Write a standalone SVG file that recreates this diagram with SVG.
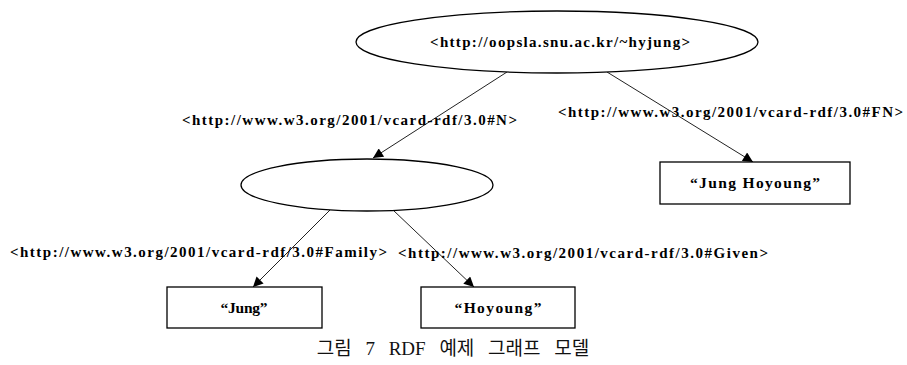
<svg xmlns="http://www.w3.org/2000/svg" width="907" height="365" viewBox="0 0 907 365">
<style>
.node{fill:#fff;stroke:#000;stroke-width:1.3}
.lbl{font-family:"Liberation Serif","Times New Roman",serif;font-weight:bold;font-size:15px;fill:#000}
.val{font-family:"Liberation Serif","Times New Roman",serif;font-weight:bold;font-size:15.5px;fill:#000}
.edge{stroke:#222;stroke-width:1;fill:none}
.cap{font-family:"Liberation Serif","Noto Sans CJK KR",serif;font-size:19px;word-spacing:9px;fill:#111}
</style>
<defs>
<marker id="arr" viewBox="0 0 10 10" refX="10" refY="5" markerWidth="11" markerHeight="10" markerUnits="userSpaceOnUse" orient="auto">
<path d="M0,0 L10,5 L0,10 z" fill="#000"/>
</marker>
</defs>
<g id="connectors">
<line class="edge" x1="507" y1="72" x2="373" y2="158" marker-end="url(#arr)"/>
<line class="edge" x1="607" y1="72" x2="753" y2="162" marker-end="url(#arr)"/>
<line class="edge" x1="330" y1="210" x2="253" y2="287" marker-end="url(#arr)"/>
<line class="edge" x1="393" y1="210" x2="474" y2="287" marker-end="url(#arr)"/>
<text class="lbl" x="182" y="125" textLength="335" lengthAdjust="spacing">&lt;http://www.w3.org/2001/vcard-rdf/3.0#N&gt;</text>
<text class="lbl" x="558" y="117" textLength="345" lengthAdjust="spacing">&lt;http://www.w3.org/2001/vcard-rdf/3.0#FN&gt;</text>
<text class="lbl" x="10" y="257" textLength="377" lengthAdjust="spacing">&lt;http://www.w3.org/2001/vcard-rdf/3.0#Family&gt;</text>
<text class="lbl" x="398" y="258" textLength="370" lengthAdjust="spacing">&lt;http://www.w3.org/2001/vcard-rdf/3.0#Given&gt;</text>
</g>
<g id="n-root">
<ellipse class="node" cx="557" cy="42" rx="201" ry="31"/>
<text class="lbl" x="430" y="47" textLength="260" lengthAdjust="spacing">&lt;http://oopsla.snu.ac.kr/~hyjung&gt;</text>
</g>
<g id="n-blank">
<ellipse class="node" cx="367" cy="185" rx="126" ry="26"/>
</g>
<g id="n-fn">
<rect class="node" x="660" y="162" width="190" height="42"/>
<text class="val" x="755" y="188" text-anchor="middle" textLength="130" lengthAdjust="spacing">“Jung Hoyoung”</text>
</g>
<g id="n-family">
<rect class="node" x="167" y="287" width="155" height="41"/>
<text class="val" x="244" y="313" text-anchor="middle" textLength="47" lengthAdjust="spacing">“Jung”</text>
</g>
<g id="n-given">
<rect class="node" x="421" y="287" width="154" height="41"/>
<text class="val" x="498" y="313" text-anchor="middle" textLength="87" lengthAdjust="spacing">“Hoyoung”</text>
</g>
<text class="cap" x="453" y="355" text-anchor="middle">그림 7 RDF 예제 그래프 모델</text>
</svg>
